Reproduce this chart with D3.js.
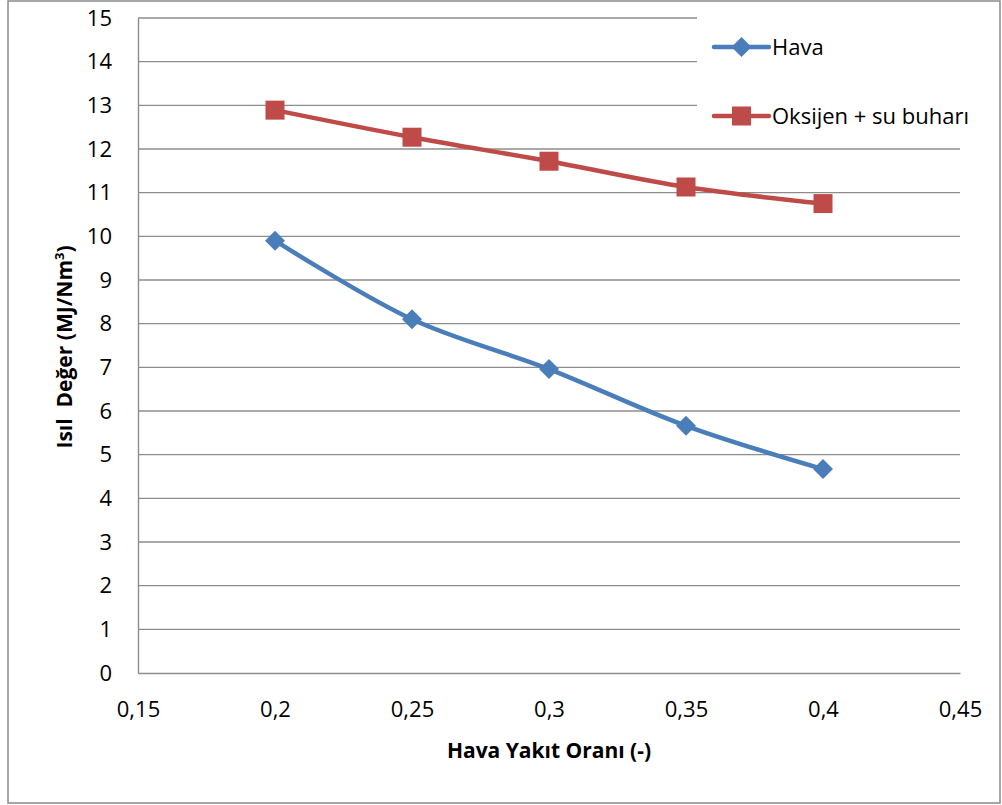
<!DOCTYPE html>
<html>
<head>
<meta charset="utf-8">
<script src="https://cdn.jsdelivr.net/npm/d3@7"></script>
<style>
  html, body { margin: 0; padding: 0; background: #fff; }
  svg text { font-family: "Open Sans", "Noto Sans", sans-serif; fill: #000; }
</style>
</head>
<body>
<svg id="chart" width="1002" height="805"></svg>
<script>
// Air-fuel ratio (x) and heating value of the produced gas (MJ/Nm3)
const ratios = [0.2, 0.25, 0.3, 0.35, 0.4];
const havaValues = [9.9, 8.1, 6.96, 5.66, 4.67];
const oksijenValues = [12.89, 12.27, 11.72, 11.13, 10.75];
const seriesNames = ["Hava", "Oksijen + su buharı"];
const xTicks = [0.15, 0.2, 0.25, 0.3, 0.35, 0.4, 0.45];
const yTicks = d3.range(0, 16);

const svg = d3.select("#chart");
const plot = { left: 138, right: 960, top: 18, bottom: 673 };
const labelSize = 22;
const titleSize = 21;

const x = d3.scaleLinear().domain([0.15, 0.45]).range([plot.left, plot.right]);
const y = d3.scaleLinear().domain([0, 15]).range([plot.bottom, plot.top]);

const fmt = d => String(+d.toFixed(2)).replace(".", ",");

// outer frame
svg.append("rect")
  .attr("x", 8).attr("y", 1).attr("width", 992).attr("height", 802)
  .attr("fill", "#fff").attr("stroke", "#8a8a8a").attr("stroke-width", 1.5);

// horizontal gridlines
svg.append("g")
  .selectAll("line")
  .data(yTicks.filter(d => d > 0))
  .join("line")
  .attr("x1", plot.left).attr("x2", plot.right)
  .attr("y1", d => y(d)).attr("y2", d => y(d))
  .attr("stroke", "#8c8c8c").attr("stroke-width", 1.4);

// y axis
const yAxis = svg.append("g")
  .attr("transform", `translate(${plot.left},0)`)
  .call(d3.axisLeft(y).tickValues(yTicks).tickSize(0).tickPadding(26).tickFormat(d => d));
yAxis.select(".domain").attr("stroke", "#8c8c8c").attr("stroke-width", 1.4);
yAxis.selectAll("text").attr("font-size", labelSize).style("font-family", '"Open Sans", sans-serif');

// x axis
const xAxis = svg.append("g")
  .attr("transform", `translate(0,${plot.bottom})`)
  .call(d3.axisBottom(x).tickValues(xTicks).tickSize(0).tickPadding(28).tickFormat(fmt));
xAxis.select(".domain").attr("stroke", "#8c8c8c").attr("stroke-width", 1.4);
xAxis.selectAll("text").attr("font-size", labelSize).style("font-family", '"Open Sans", sans-serif');

// axis titles
svg.append("text")
  .attr("x", 549).attr("y", 758)
  .attr("text-anchor", "middle")
  .attr("font-size", titleSize).attr("font-weight", "bold")
  .text("Hava Yakıt Oranı (-)");

const yTitle = svg.append("text")
  .attr("transform", "translate(72,347) rotate(-90)")
  .attr("text-anchor", "middle")
  .attr("font-size", titleSize).attr("font-weight", "bold")
  .attr("xml:space", "preserve");
yTitle.append("tspan").text("Isıl  Değer (MJ/Nm");
yTitle.append("tspan").attr("font-size", 13).attr("dy", -8).text("3");
yTitle.append("tspan").attr("dy", 8).text(")");

// series
const series = [
  { name: seriesNames[0], values: havaValues, color: "#4A7EBB", marker: "diamond" },
  { name: seriesNames[1], values: oksijenValues, color: "#BE4B48", marker: "square" }
];

const line = d3.line()
  .x((d, i) => x(ratios[i]))
  .y(d => y(d))
  .curve(d3.curveCatmullRom.alpha(0.5));

function drawMarker(g, type, cx, cy, color) {
  if (type === "diamond") {
    g.append("path")
      .attr("d", `M${cx},${cy - 10}L${cx + 10},${cy}L${cx},${cy + 10}L${cx - 10},${cy}Z`)
      .attr("fill", color);
  } else {
    g.append("rect")
      .attr("x", cx - 9.5).attr("y", cy - 9.5).attr("width", 19).attr("height", 19)
      .attr("fill", color);
  }
}

// legend background (covers gridlines in the top-right corner)
svg.append("rect")
  .attr("x", 697).attr("y", 14).attr("width", 293).attr("height", 132)
  .attr("fill", "#fff");

series.forEach(s => {
  const g = svg.append("g");
  g.append("path")
    .attr("d", line(s.values))
    .attr("fill", "none")
    .attr("stroke", s.color)
    .attr("stroke-width", 4.5)
    .attr("stroke-linejoin", "round");
  s.values.forEach((v, i) => drawMarker(g, s.marker, x(ratios[i]), y(v), s.color));
});

// legend
const legendY = [47, 116];
series.forEach((s, i) => {
  const g = svg.append("g");
  g.append("line")
    .attr("x1", 714).attr("x2", 769)
    .attr("y1", legendY[i]).attr("y2", legendY[i])
    .attr("stroke", s.color).attr("stroke-width", 4.5).attr("stroke-linecap", "round");
  drawMarker(g, s.marker, 741.5, legendY[i], s.color);
  g.append("text")
    .attr("x", 772).attr("y", legendY[i] + 8)
    .attr("font-size", labelSize)
    .text(s.name);
});
</script>
</body>
</html>
